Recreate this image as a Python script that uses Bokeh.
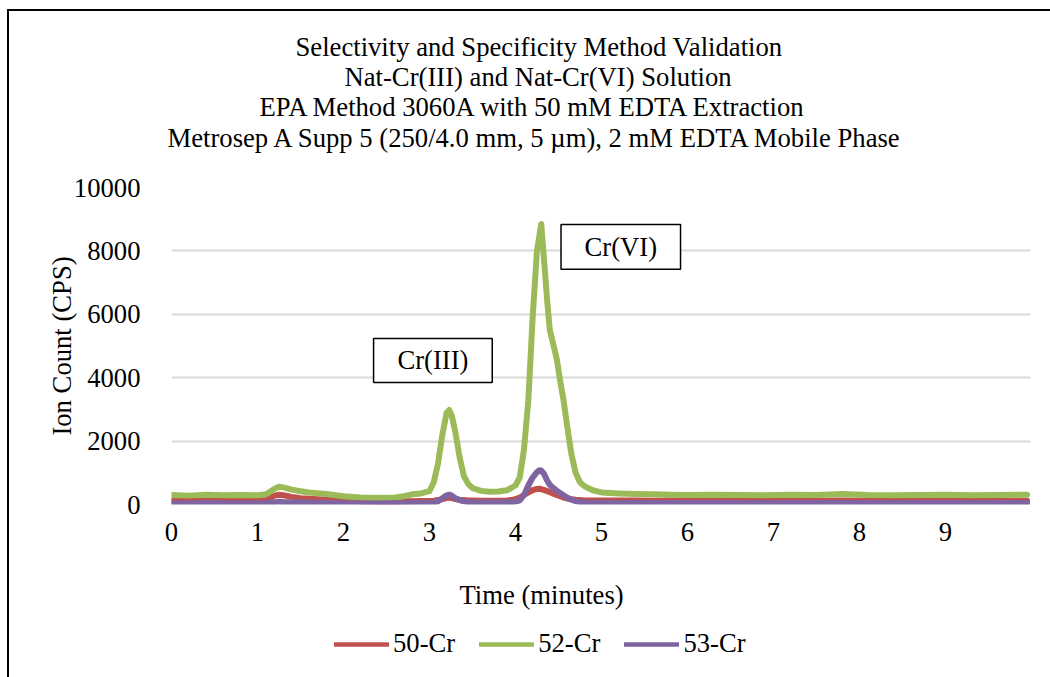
from bokeh.plotting import figure
from bokeh.layouts import column
from bokeh.models import (Range1d, FixedTicker, Legend, LegendItem, ColumnDataSource, Title,
                          InlineStyleSheet)
from bokeh.embed import file_html
from bokeh.resources import INLINE
from bokeh.core.properties import value

# ---- data ----
time_min = [0.0, 0.2, 0.4, 0.6, 0.8, 1.0, 1.1, 1.2, 1.25, 1.3, 1.4, 1.5, 1.6, 1.8, 2.0, 2.2, 2.4, 2.6,
            2.7, 2.8, 2.9, 3.0, 3.05, 3.1, 3.15, 3.2, 3.23, 3.26, 3.3, 3.35, 3.4, 3.45, 3.5, 3.6, 3.7,
            3.8, 3.9, 3.95, 4.0, 4.05, 4.1, 4.15, 4.2, 4.25, 4.28, 4.3, 4.33, 4.37, 4.4, 4.44, 4.48,
            4.52, 4.56, 4.6, 4.65, 4.7, 4.75, 4.8, 4.9, 5.0, 5.2, 5.4, 5.6, 5.8, 6.0, 6.3, 6.6, 6.9,
            7.2, 7.5, 7.8, 8.1, 8.4, 8.7, 9.0, 9.3, 9.6, 9.95]

cr50 = [120, 110, 130, 120, 110, 120, 140, 280, 310, 290, 240, 200, 180, 150, 120, 100, 90, 90,
        100, 100, 110, 110, 120, 140, 170, 210, 220, 200, 170, 150, 140, 130, 130, 120, 120,
        120, 130, 140, 170, 220, 300, 380, 450, 490, 500, 480, 460, 420, 390, 340, 300,
        260, 220, 190, 170, 150, 140, 130, 130, 130, 125, 130, 120, 125, 130, 120, 125, 120,
        130, 120, 125, 120, 115, 120, 125, 115, 120, 115]

cr52 = [300, 280, 310, 290, 300, 290, 320, 500, 560, 540, 470, 420, 380, 330, 260, 220, 210, 220,
        260, 320, 350, 420, 700, 1300, 2200, 2900, 2980, 2800, 2300, 1500, 900, 650, 520, 430, 400,
        410, 450, 520, 600, 850, 1750, 3280, 5900, 8000, 8500, 8850, 7800, 6400, 5500, 5050, 4600,
        3900, 3280, 2500, 1600, 1000, 700, 580, 450, 380, 350, 330, 320, 310, 300, 310, 300, 290,
        310, 300, 330, 300, 290, 300, 310, 290, 300, 310]

cr53 = [40, 35, 45, 40, 35, 40, 50, 70, 90, 80, 70, 65, 60, 50, 40, 35, 35, 40,
        40, 45, 45, 50, 60, 100, 200, 290, 310, 280, 200, 140, 100, 80, 70, 60, 60,
        60, 70, 75, 90, 130, 300, 600, 850, 1020, 1080, 1070, 980, 750, 620, 520, 440,
        360, 290, 220, 150, 110, 80, 65, 55, 50, 50, 45, 50, 45, 50, 45, 50, 45,
        50, 45, 50, 45, 45, 50, 45, 45, 50, 45]

series_names = ["50-Cr", "52-Cr", "53-Cr"]
series_colors = ["#C0504D", "#9BBB59", "#8064A2"]

x_ticks = [0, 1, 2, 3, 4, 5, 6, 7, 8, 9]
y_ticks = [0, 2000, 4000, 6000, 8000, 10000]

title_lines = ["Selectivity and Specificity Method Validation",
               "Nat-Cr(III) and Nat-Cr(VI) Solution",
               "EPA Method 3060A with 50 mM EDTA Extraction",
               "Metrosep A Supp 5 (250/4.0 mm, 5 \u00b5m), 2 mM EDTA Mobile Phase"]
title_offsets = [124, 173, 88, -4]

x_title = "Time (minutes)"
y_title = "Ion Count (CPS)"

peak_labels = ["Cr(III)", "Cr(VI)"]
peak_box_left = [2.35, 4.53]
peak_box_right = [3.73, 5.92]
peak_box_bottom = [3850, 7420]
peak_box_top = [5240, 8830]

FONT = "Liberation Serif"
FS = "20pt"
H_MAIN = 615
H_LEG = 677 - H_MAIN


def border(top, height):
    return InlineStyleSheet(css=f"""
:host {{ position: relative; }}
:host::after {{
  content: "";
  position: absolute;
  left: 7px; top: {top}px;
  width: 1043px; height: {height}px;
  box-sizing: border-box;
  border-left: 2.5px solid #000;
  {"border-top: 2.5px solid #000;" if top > 0 else ""}
  pointer-events: none;
  z-index: 5;
}}
""")


p = figure(width=1050, height=H_MAIN, output_backend="svg", toolbar_location=None,
           x_range=Range1d(0, 9.99), y_range=Range1d(0, 10000),
           min_border_left=171, min_border_right=20, min_border_top=187,
           min_border_bottom=H_MAIN - 504)
p.stylesheets = [border(9, H_MAIN - 9)]
p.outline_line_color = None
p.background_fill_color = "white"
p.border_fill_color = "white"

p.xgrid.grid_line_color = None
p.ygrid.grid_line_color = "#D9D9D9"
p.ygrid.grid_line_width = 2
p.ygrid.ticker = FixedTicker(ticks=y_ticks)

p.xaxis.ticker = FixedTicker(ticks=x_ticks)
p.yaxis.ticker = FixedTicker(ticks=y_ticks)
for ax in (p.xaxis, p.yaxis):
    ax.axis_line_color = None
    ax.major_tick_line_color = None
    ax.minor_tick_line_color = None
    ax.major_label_text_font = FONT
    ax.major_label_text_font_size = FS
    ax.major_label_text_color = "black"
p.xaxis.major_label_standoff = 12
p.yaxis.major_label_standoff = 25
p.yaxis.axis_label = y_title
p.yaxis.axis_label_text_font = FONT
p.yaxis.axis_label_text_font_size = FS
p.yaxis.axis_label_text_font_style = "normal"
p.yaxis.axis_label_text_color = "black"
p.yaxis.axis_label_standoff = -6

src = ColumnDataSource(dict(t=time_min, c50=cr50, c52=cr52, c53=cr53))
cols = ["c50", "c52", "c53"]
for col, color in zip(cols, series_colors):
    p.line("t", col, source=src, line_color=color, line_width=6,
           line_cap="round", line_join="round")

# peak annotation boxes
p.quad(left=peak_box_left, right=peak_box_right, bottom=peak_box_bottom, top=peak_box_top,
       fill_color="white", line_color="black", line_width=1.5)
p.text(x=[(a + b) / 2 for a, b in zip(peak_box_left, peak_box_right)],
       y=[(a + b) / 2 for a, b in zip(peak_box_bottom, peak_box_top)],
       text=peak_labels, text_font=value(FONT), text_font_size=FS,
       text_align="center", text_baseline="middle", text_color="black")


def title(text, offset, standoff):
    return Title(text=text, align="left", offset=offset, standoff=standoff,
                 text_font=FONT, text_font_size=FS, text_font_style="normal",
                 text_color="black")


# above: spacer next to the plot, then the title lines stacked upward
p.add_layout(title(" ", 0, 3), "above")
for i, (txt, off) in enumerate(zip(reversed(title_lines), reversed(title_offsets))):
    p.add_layout(title(txt, off, 0 if i == 0 else -2), "above")

# below: axis, spacer, x-axis title
p.add_layout(title(" ", 0, 2), "below")
p.add_layout(title(x_title, 288, 0), "below")

# legend strip under the chart (its frame is aligned with the chart's frame);
# the same series are drawn there but fall outside its visible range
p2 = figure(width=1050, height=H_LEG, output_backend="svg", toolbar_location=None,
            x_range=Range1d(0, 1), y_range=Range1d(-2, -1), x_axis_type=None, y_axis_type=None,
            min_border=0)
p2.stylesheets = [border(0, H_LEG)]
p2.outline_line_color = None
p2.grid.visible = False
p2.border_fill_color = "white"
p2.background_fill_color = "white"
leg_r = [p2.line("t", col, source=src, line_color=c, line_width=4.5, line_cap="round")
         for col, c in zip(cols, series_colors)]
legend = Legend(items=[LegendItem(label=n, renderers=[r]) for n, r in zip(series_names, leg_r)],
                orientation="horizontal", location=(334 - 171, 677 - 659),
                glyph_width=55, glyph_height=20, label_standoff=4, spacing=24,
                padding=0, margin=0, border_line_color=None, background_fill_alpha=0,
                label_text_font=FONT, label_text_font_size=FS, label_text_color="black")
p2.add_layout(legend, "center")

layout = column(p, p2, spacing=0)
open("out.html", "w").write(file_html(layout, INLINE))
